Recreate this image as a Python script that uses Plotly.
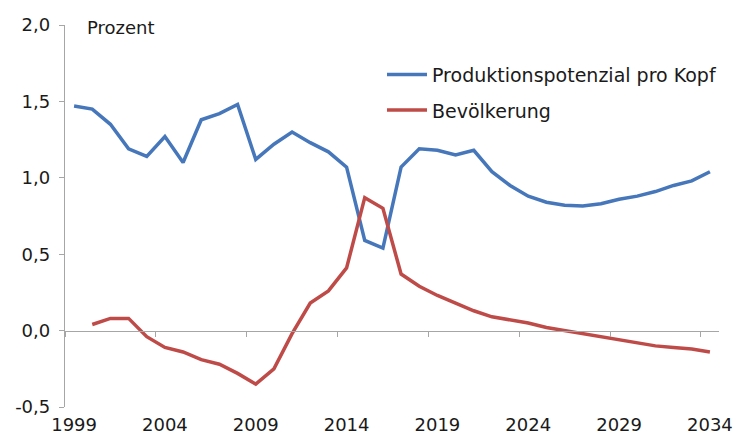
import plotly.graph_objects as go

years = list(range(1999, 2035))
produktionspotenzial = [1.47, 1.45, 1.35, 1.19, 1.14, 1.27, 1.10, 1.38, 1.42, 1.48,
                        1.12, 1.22, 1.30, 1.23, 1.17, 1.07, 0.59, 0.54, 1.07, 1.19,
                        1.18, 1.15, 1.18, 1.04, 0.95, 0.88, 0.84, 0.82, 0.815, 0.83,
                        0.86, 0.88, 0.91, 0.95, 0.98, 1.04]
bev_years = list(range(2000, 2035))
bevoelkerung = [0.04, 0.08, 0.08, -0.04, -0.11, -0.14, -0.19, -0.22, -0.28, -0.35,
                -0.25, -0.02, 0.18, 0.26, 0.41, 0.87, 0.80, 0.37, 0.29, 0.23,
                0.18, 0.13, 0.09, 0.07, 0.05, 0.02, 0.00, -0.02, -0.04, -0.06,
                -0.08, -0.10, -0.11, -0.12, -0.14]

x_label_vals = [1999, 2004, 2009, 2014, 2019, 2024, 2029, 2034]
x_label_text = ["1999", "2004", "2009", "2014", "2019", "2024", "2029", "2034"]
x_tick_marks = [1998.5, 2003.5, 2008.5, 2013.5, 2018.5, 2023.5, 2028.5, 2033.5]
y_tick_vals = [-0.5, 0.0, 0.5, 1.0, 1.5, 2.0]
y_tick_text = ["-0,5", "0,0", "0,5", "1,0", "1,5", "2,0"]

BLUE = "#4677BA"
RED = "#BE4B48"
AXIS = "#A6A6A6"
TXT = "#1A1A1A"
FONT = "DejaVu Sans"

fig = go.Figure()
fig.add_trace(go.Scatter(x=years, y=produktionspotenzial, mode="lines",
                         name="Produktionspotenzial pro Kopf", legendgroup="a",
                         line=dict(color=BLUE, width=3.5)))
fig.add_trace(go.Scatter(x=bev_years, y=bevoelkerung, mode="lines",
                         name="Bevölkerung", legendgroup="b", xaxis="x2",
                         line=dict(color=RED, width=3.5)))

xr = [1998.5, 2034.5]
fig.update_layout(
    width=735, height=441,
    margin=dict(l=65, r=16, t=25, b=34, autoexpand=False),
    paper_bgcolor="white", plot_bgcolor="white",
    font=dict(family=FONT, size=18, color=TXT),
    showlegend=True,
    legend=dict(x=0.4847, y=0.92, xanchor="left", yanchor="top",
                font=dict(family=FONT, size=19, color=TXT),
                traceorder="grouped", tracegroupgap=8, itemwidth=40,
                bgcolor="rgba(0,0,0,0)", borderwidth=0),
    xaxis=dict(range=xr, tickmode="array", tickvals=x_label_vals, ticktext=x_label_text,
               ticks="", showline=False, showgrid=False, zeroline=False, automargin=False,
               ticklabelstandoff=5,
               tickfont=dict(family=FONT, size=18, color=TXT)),
    xaxis2=dict(range=xr, overlaying="x", anchor="free", position=0.2, side="bottom",
                tickmode="array", tickvals=x_tick_marks, ticks="outside", ticklen=5,
                tickcolor=AXIS, tickwidth=1, showticklabels=False, automargin=False,
                showline=True, linecolor=AXIS, linewidth=1.3,
                showgrid=False, zeroline=False),
    yaxis=dict(range=[-0.5, 2.0], tickmode="array", tickvals=y_tick_vals, ticktext=y_tick_text,
               ticks="outside", ticklen=5, tickcolor=AXIS, tickwidth=1, automargin=False,
               showline=True, linecolor=AXIS, linewidth=1.3,
               showgrid=False, zeroline=False, ticklabelstandoff=5,
               tickfont=dict(family=FONT, size=18, color=TXT)),
    annotations=[dict(text="Prozent", xref="paper", yref="y", x=0.031, y=2.0,
                      xanchor="left", yanchor="middle", yshift=-2, showarrow=False,
                      font=dict(family=FONT, size=18, color=TXT))],
)

fig.write_html("out.html", config={"displayModeBar": False},
               post_script="document.body.style.margin='0';")
